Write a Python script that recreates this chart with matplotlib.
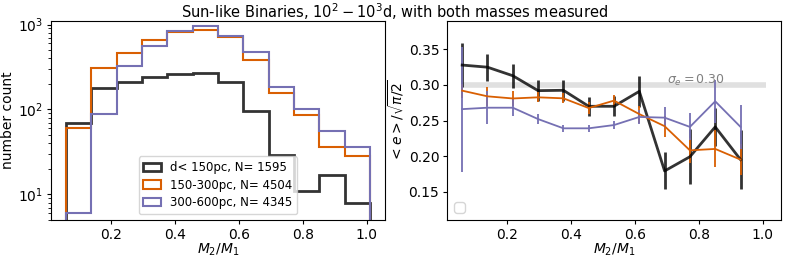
import numpy as np
import matplotlib
matplotlib.use("Agg")
import matplotlib.pyplot as plt

# bin edges in mass ratio
q_edges = np.linspace(0.06, 1.01, 13)
q_left = q_edges[:-1]

# histogram counts per distance bin
n_near = [69, 179, 213, 244, 263, 268, 209, 95, 29, 11, 17, 8]
n_mid = [60, 310, 466, 661, 809, 871, 705, 380, 158, 87, 36, 28]
n_far = [6, 89, 328, 560, 847, 964, 738, 470, 182, 102, 56, 36]

# mean eccentricity / sqrt(pi/2) and errors
e_near = [0.328, 0.325, 0.313, 0.292, 0.2925, 0.270, 0.270, 0.291, 0.179, 0.199, 0.241, 0.195]
err_near = [0.031, 0.019, 0.017, 0.015, 0.015, 0.013, 0.014, 0.022, 0.026, 0.039, 0.027, 0.042]
e_mid = [0.292, 0.284, 0.281, 0.2826, 0.2812, 0.2675, 0.278, 0.259, 0.242, 0.208, 0.210, 0.195]
err_mid = [0.010, 0.013, 0.010, 0.007, 0.007, 0.008, 0.008, 0.012, 0.015, 0.018, 0.026, 0.022]
e_far = [0.266, 0.268, 0.268, 0.252, 0.239, 0.239, 0.2436, 0.255, 0.254, 0.241, 0.277, 0.241]
err_far = [0.088, 0.023, 0.012, 0.007, 0.005, 0.005, 0.006, 0.010, 0.015, 0.019, 0.030, 0.031]

labels = ["d< 150pc, N= 1595", "150-300pc, N= 4504", "300-600pc, N= 4345"]
sigma_e = 0.30

W, H = 789, 263
fig = plt.figure(figsize=(W / 100, H / 100), dpi=100)
ax1 = fig.add_axes([51 / W, 1 - 220 / H, 334 / W, 199 / H])
ax2 = fig.add_axes([447 / W, 1 - 220 / H, 334 / W, 199 / H])

ax1.hist(q_left, bins=q_edges, weights=n_near, histtype='step', color='k', alpha=0.8, lw=2, label=labels[0], log=True)
ax1.hist(q_left, bins=q_edges, weights=n_mid, histtype='step', color='#d95f02', lw=1.5, label=labels[1], log=True)
ax1.hist(q_left, bins=q_edges, weights=n_far, histtype='step', color='#7570b3', lw=1.5, label=labels[2], log=True)
ax1.set_ylim(5, 1100)
ax1.set_xlabel(r'$M_2/M_1$', fontsize=10, labelpad=0)
ax1.set_ylabel('number count', fontsize=10, labelpad=2)
ax1.tick_params(labelsize=10, length=3, pad=2.5)
ax1.tick_params(which='minor', length=2)
ax1.legend(loc='lower center', fontsize=8.5, handlelength=1.5, labelspacing=0.4)

ax2.hlines(sigma_e, q_edges[0], q_edges[-1], color='lightgray', lw=4, alpha=0.7)
ax2.text(0.7, sigma_e + 0.002, r'$\sigma_e = 0.30$', color='gray', fontsize=9)
ax2.errorbar(q_left, e_near, yerr=err_near, color='k', alpha=0.8, lw=2)
ax2.errorbar(q_left, e_mid, yerr=err_mid, color='#d95f02', lw=1.3)
ax2.errorbar(q_left, e_far, yerr=err_far, color='#7570b3', lw=1.3)
ax2.set_ylim(0.11, 0.39)
ax2.set_yticks([0.15, 0.20, 0.25, 0.30, 0.35])
ax2.set_xlabel(r'$M_2/M_1$', fontsize=10, labelpad=0)
ax2.set_ylabel(r'$<e>/\sqrt{\pi/2}$', fontsize=10, labelpad=2)
ax2.tick_params(labelsize=10, length=3, pad=2.5)
ax2.legend(loc='lower left')

fig.suptitle(r'Sun-like Binaries, $10^2-10^3$d, with both masses measured', fontsize=10.5, y=0.995)

fig.savefig('out.png', dpi=100)
